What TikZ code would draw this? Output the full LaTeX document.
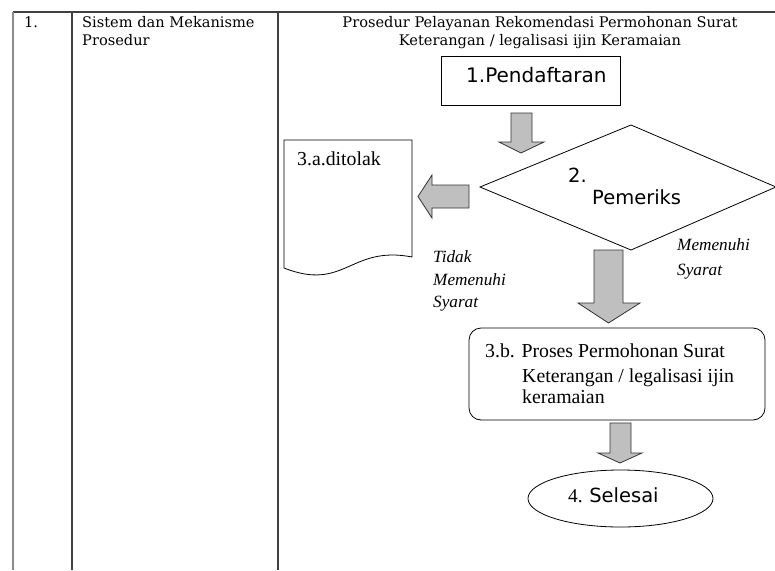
\documentclass[tikz,border=0pt]{standalone}
\usepackage{fontspec}
\setmainfont{Liberation Serif}
\newfontfamily\hdrfont{DejaVu Serif}
\newfontfamily\sansfont{DejaVu Sans}
\begin{document}
\begin{tikzpicture}[x=1pt,y=-1pt,
  tbl/.style={draw=black!75, line width=1.2pt},
  shp/.style={draw=black, line width=0.8pt},
  blk/.style={draw=black!80, fill=black!25, line width=0.8pt},
  hdr/.style={font=\hdrfont\fontsize{14.6}{17}\selectfont, inner sep=0pt, anchor=base west},
  tt/.style={font=\fontsize{19.8}{22}\selectfont, inner sep=0pt, anchor=base west},
  lab/.style={font=\itshape\fontsize{17.2}{20}\selectfont, inner sep=0pt, anchor=base west},
  ss/.style={font=\sansfont\fontsize{20}{22}\selectfont, inner sep=0pt, anchor=base west}]
\useasboundingbox (0,0) rectangle (775,570);
\fill[white] (0,0) rectangle (775,570);
% table
\draw[tbl] (13,12) -- (775,12);
\draw[draw=black!45, line width=1.2pt] (13,12) -- (13,570);
\draw[tbl] (72,12) -- (72,570);
\draw[tbl] (278,12) -- (278,570);
\node[hdr] (no) at (24,27) {1.};
\node[hdr] (s1) at (82,27) {Sistem dan Mekanisme};
\node[hdr] (s2) at (82,45) {Prosedur};
\node[hdr, anchor=base] (h1) at (540,27) {Prosedur Pelayanan Rekomendasi Permohonan Surat};
\node[hdr, anchor=base] (h2) at (540,45) {Keterangan / legalisasi ijin Keramaian};
% 1. Pendaftaran
\draw[shp] (441,56) rectangle (620,105);
\node[ss] (pend) at (466,82) {1.Pendaftaran};
% arrow 1
\draw[blk] (511,113) -- (532,113) -- (532,142) -- (544,142) -- (521,153) -- (499,142) -- (511,142) -- cycle;
% diamond
\draw[shp] (480,187) -- (631,125) -- (776,187) -- (631,250) -- cycle;
\node[ss, font=\sansfont\fontsize{19.5}{22}\selectfont] (d1) at (568,182) {2.};
\node[ss, font=\sansfont\fontsize{19.5}{22}\selectfont] (d2) at (592,204) {Pemeriks};
% left arrow
\draw[blk] (469,185) -- (469,208) -- (432,208) -- (432,218) -- (418,196.5) -- (432,175) -- (432,185) -- cycle;
% document
\draw[shp] (284,268) -- (284,140) -- (412,140) -- (412,257)
  .. controls (350,245) and (345,292) .. (284,268);
\node[tt] (rej) at (297,165) {3.a.ditolak};
% labels
\node[lab] (t1) at (433,262) {Tidak};
\node[lab] (t2) at (433,285) {Memenuhi};
\node[lab] (t3) at (433,307) {Syarat};
\node[lab] (m1) at (677,250) {Memenuhi};
\node[lab] (m2) at (677,275) {Syarat};
% arrow 2
\draw[blk] (594,250) -- (623,250) -- (623,303) -- (640,303) -- (608.5,323) -- (578,303) -- (594,303) -- cycle;
% process box
\draw[shp, rounded corners=12pt] (469,328) rectangle (765,420);
\node[tt] (p1) at (485,357) {3.b. Proses Permohonan Surat};
\node[tt] (p2) at (522,382) {Keterangan / legalisasi ijin};
\node[tt] (p3) at (522,403) {keramaian};
% arrow 3
\draw[blk] (610,423) -- (631,423) -- (631,453) -- (642,453) -- (620,463) -- (598,453) -- (610,453) -- cycle;
% end ellipse
\draw[shp] (620.5,498.5) ellipse [x radius=92.5, y radius=28.5];
\node[ss, font=\sansfont\fontsize{19.5}{22}\selectfont] (end) at (568,502) {{\rmfamily 4. }Selesai};
\end{tikzpicture}
\end{document}
